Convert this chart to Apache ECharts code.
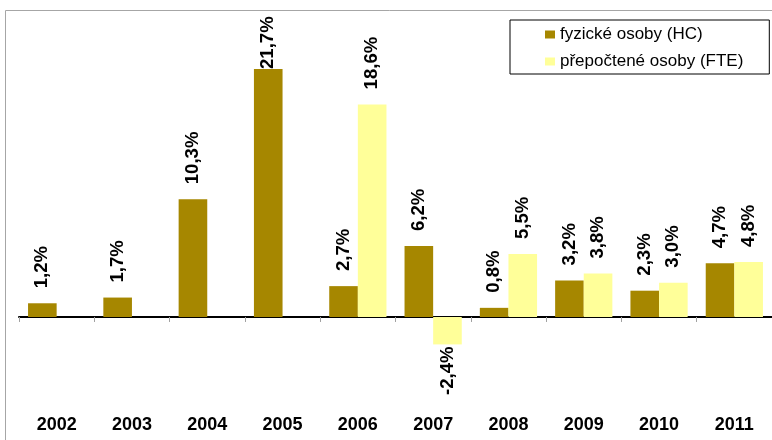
<!DOCTYPE html>
<html>
<head>
<meta charset="utf-8">
<script src="https://cdn.jsdelivr.net/npm/echarts@6/dist/echarts.min.js"></script>
<style>
html,body{margin:0;padding:0;background:#fff;}
#chart{width:772px;height:440px;}
</style>
</head>
<body>
<div id="chart"></div>
<script>
const categories = ['2002','2003','2004','2005','2006','2007','2008','2009','2010','2011'];
const hcName = 'fyzické osoby (HC)';
const fteName = 'přepočtené osoby (FTE)';
const hcValues = [1.2, 1.7, 10.3, 21.7, 2.7, 6.2, 0.8, 3.2, 2.3, 4.7];
const fteValues = [null, null, null, null, 18.6, -2.4, 5.5, 3.8, 3.0, 4.8];

const yMin = -7.5, yMax = 27;
const FONT = '"Liberation Sans", Arial, Helvetica, sans-serif';

function fmt(v){ return v.toFixed(1).replace('.', ',') + '%'; }

function buildData(values){
  return values.map(v => {
    if (v === null) return null;
    if (v < 0) {
      return {value: v, label: {position: 'bottom', distance: 2, align: 'right'}};
    }
    // label would run past the top of the chart: pull it down onto the bar
    if (v > yMax - 6) {
      return {value: v, label: {distance: 0}};
    }
    return v;
  });
}

const labelCfg = {
  show: true,
  position: 'top',
  distance: 15,
  rotate: 90,
  align: 'left',
  verticalAlign: 'middle',
  fontFamily: FONT,
  fontWeight: 'bold',
  fontSize: 18.6,
  color: '#000',
  formatter: p => fmt(p.value)
};

const chart = echarts.init(document.getElementById('chart'), null, {renderer: 'canvas'});
chart.setOption({
  animation: false,
  backgroundColor: '#fff',
  graphic: [{
    type: 'rect',
    left: 3, top: 8,
    shape: {width: 820, height: 500},
    style: {fill: 'none', stroke: '#a6a6a6', lineWidth: 1},
    silent: true, z: 0
  }],
  legend: {
    orient: 'vertical',
    left: 510, top: 20,
    padding: [6, 26, 4, 35],
    itemWidth: 10, itemHeight: 8, itemGap: 10,
    icon: 'rect',
    borderColor: '#000', borderWidth: 1,
    backgroundColor: '#fff',
    textStyle: {fontFamily: FONT, fontSize: 17, color: '#000', lineHeight: 17},
    data: [hcName, fteName]
  },
  grid: {left: 19, top: 8.4, width: 761, height: 394.3, containLabel: false},
  xAxis: [{
    type: 'category',
    data: categories,
    position: 'bottom',
    axisLine: {onZero: true, lineStyle: {color: '#000', width: 2}},
    axisTick: {show: true, length: 5, lineStyle: {color: '#a0a0a0'}},
    axisLabel: {show: false},
    splitLine: {show: false}
  }, {
    type: 'category',
    data: categories,
    position: 'bottom',
    axisLine: {show: false, onZero: false},
    axisTick: {show: false},
    axisLabel: {show: true, margin: 13, fontFamily: FONT, fontWeight: 'bold', fontSize: 18, color: '#000'},
    splitLine: {show: false}
  }],
  yAxis: {
    type: 'value', min: yMin, max: yMax, show: false,
    splitLine: {show: false}
  },
  series: [{
    name: hcName, type: 'bar', xAxisIndex: 0,
    data: buildData(hcValues),
    barGap: '0%', barCategoryGap: '24%',
    itemStyle: {color: '#A68700'},
    label: labelCfg, z: 3
  }, {
    name: fteName, type: 'bar', xAxisIndex: 0,
    data: buildData(fteValues),
    barGap: '0%', barCategoryGap: '24%',
    itemStyle: {color: '#FFFF99'},
    label: labelCfg, z: 3
  }]
});
</script>
</body>
</html>
